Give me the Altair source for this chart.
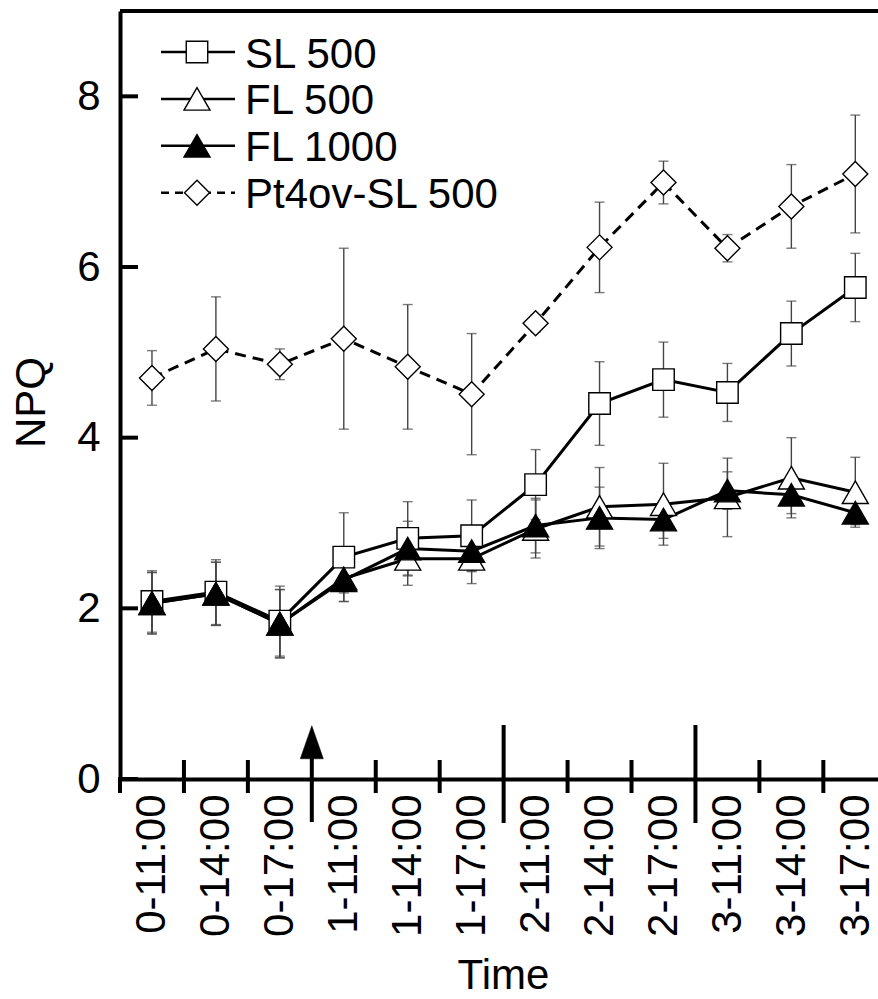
import json
import altair as alt
import pandas as pd

# ---------------- data ----------------
times = ["0-11:00", "0-14:00", "0-17:00", "1-11:00", "1-14:00", "1-17:00",
         "2-11:00", "2-14:00", "2-17:00", "3-11:00", "3-14:00", "3-17:00"]
series_names = ["SL 500", "FL 500", "FL 1000", "Pt4ov-SL 500"]

sl500_mean = [2.08, 2.19, 1.85, 2.60, 2.82, 2.85, 3.45, 4.40, 4.68, 4.53, 5.22, 5.76]
sl500_err = [0.36, 0.38, 0.41, 0.52, 0.43, 0.42, 0.41, 0.49, 0.44, 0.34, 0.38, 0.40]
fl500_mean = [2.06, 2.17, 1.82, 2.35, 2.58, 2.58, 2.93, 3.19, 3.22, 3.30, 3.53, 3.36]
fl500_err = [0.36, 0.37, 0.40, 0.27, 0.31, 0.29, 0.34, 0.46, 0.48, 0.46, 0.47, 0.41]
fl1000_mean = [2.06, 2.17, 1.82, 2.33, 2.70, 2.67, 2.97, 3.06, 3.04, 3.38, 3.33, 3.12]
fl1000_err = [0.36, 0.37, 0.40, 0.15, 0.32, 0.23, 0.32, 0.36, 0.22, 0.22, 0.22, 0.14]
pt4_mean = [4.70, 5.04, 4.86, 5.16, 4.83, 4.51, 5.34, 6.23, 6.99, 6.22, 6.71, 7.09]
pt4_err = [0.32, 0.61, 0.18, 1.06, 0.73, 0.71, 0.10, 0.53, 0.25, 0.16, 0.49, 0.69]

y_tick_values = [0, 2, 4, 6, 8]

means = {"SL 500": sl500_mean, "FL 500": fl500_mean,
         "FL 1000": fl1000_mean, "Pt4ov-SL 500": pt4_mean}
errs = {"SL 500": sl500_err, "FL 500": fl500_err,
        "FL 1000": fl1000_err, "Pt4ov-SL 500": pt4_err}

rows = []
for s in series_names:
    for i, t in enumerate(times):
        m, e = means[s][i], errs[s][i]
        rows.append({"series": s, "t": i, "time": t, "mean": m,
                     "lo": m - e, "hi": m + e})
df = pd.DataFrame(rows)

# boundaries between time categories (hour vs. day change)
bounds = []
first_day_change = True
for i in range(len(times) - 1):
    if times[i].split("-")[0] != times[i + 1].split("-")[0]:
        kind = "arrow" if first_day_change else "day"
        first_day_change = False
    else:
        kind = "hour"
    bounds.append({"b": i + 0.5, "kind": kind})
bdf = pd.DataFrame(bounds)
ytdf = pd.DataFrame({"v": y_tick_values})
one = pd.DataFrame({"k": [0]})
legend_df = pd.DataFrame({"name": series_names, "row": list(range(len(series_names)))})

# ---------------- styling ----------------
FONT = "Liberation Sans"
FS = 42
W, H = 758, 768
styles = {
    "SL 500": dict(shape="square", fill="white", size=462, dash=None),
    "FL 500": dict(shape="triangle-up", fill="white", size=676, dash=None),
    "FL 1000": dict(shape="triangle-up", fill="black", size=676, dash=None),
    "Pt4ov-SL 500": dict(shape="diamond", fill="white", size=625, dash=[11, 7]),
}
draw_order = ["Pt4ov-SL 500", "SL 500", "FL 500", "FL 1000"]

xscale = alt.Scale(domain=[-0.5, 11.355], nice=False, zero=False)
yscale = alt.Scale(domain=[0, 9], nice=False, zero=True)

label_expr = json.dumps(times) + "[datum.value]"
xaxis = alt.Axis(values=list(range(len(times))), labelExpr=label_expr, title="Time",
                 labelAngle=270, labelAlign="right", labelBaseline="middle",
                 labelPadding=15, ticks=False, tickSize=0, domainWidth=4,
                 domainColor="black", grid=False, labelFontSize=FS, titleFontSize=FS,
                 titleFontWeight="normal", titleY=209, titleX=383,
                 titleBaseline="alphabetic", labelFont=FONT, titleFont=FONT,
                 labelColor="black", titleColor="black", labelOverlap=False,
                 labelFlush=False)
yaxis = alt.Axis(values=y_tick_values, title="NPQ", ticks=False, tickSize=0,
                 labelPadding=20, domainWidth=4, domainColor="black", grid=False,
                 labelFontSize=FS, titleFontSize=FS, titleFontWeight="normal",
                 titleX=-89, titleY=391, titleAngle=270, titleBaseline="middle",
                 titleAlign="center", labelFont=FONT, titleFont=FONT,
                 labelColor="black", titleColor="black", labelFlush=False)


def X(field):
    return alt.X(f"{field}:Q", scale=xscale, axis=xaxis)


def Y(field):
    return alt.Y(f"{field}:Q", scale=yscale, axis=yaxis)


layers = []

# error bars
for s in draw_order:
    d = df[df.series == s]
    base = alt.Chart(d)
    layers.append(base.mark_rule(color="#444", strokeWidth=1.4).encode(
        x=X("t"), y=Y("lo"), y2="hi:Q"))
    for f in ["lo", "hi"]:
        layers.append(base.mark_tick(color="#444", thickness=1.4, size=10,
                                     orient="horizontal").encode(
            x=X("t"), y=Y(f)))

# connecting lines
for s in draw_order:
    d = df[df.series == s]
    kw = dict(color="black", strokeWidth=3)
    if styles[s]["dash"]:
        kw["strokeDash"] = styles[s]["dash"]
    layers.append(alt.Chart(d).mark_line(**kw).encode(
        x=X("t"), y=Y("mean"), order="t:Q"))

# markers
for s in draw_order:
    d = df[df.series == s]
    st = styles[s]
    layers.append(alt.Chart(d).mark_point(
        shape=st["shape"], filled=True, fill=st["fill"], stroke="black",
        strokeWidth=1.4, size=st["size"], opacity=1).encode(
        x=X("t"), y=Y("mean")))

# frame: top line, inward y ticks, y-axis stub below the x axis
layers.append(alt.Chart(one).mark_rule(color="black", strokeWidth=4).encode(
    x=alt.value(0), x2=alt.value(W), y=alt.value(0)))
layers.append(alt.Chart(ytdf).mark_rule(color="black", strokeWidth=4).encode(
    x=alt.value(0), x2=alt.value(18), y=Y("v")))
layers.append(alt.Chart(one).mark_rule(color="black", strokeWidth=4).encode(
    x=alt.value(0), y=alt.value(H - 2), y2=alt.value(H + 14)))

# x boundary ticks
hour = bdf[bdf.kind == "hour"]
day = bdf[bdf.kind == "day"]
arrow = bdf[bdf.kind == "arrow"]
layers.append(alt.Chart(hour).mark_rule(color="black", strokeWidth=4).encode(
    x=X("b"), y=alt.value(H - 19), y2=alt.value(H + 14)))
layers.append(alt.Chart(day).mark_rule(color="black", strokeWidth=4).encode(
    x=X("b"), y=alt.value(H - 54), y2=alt.value(H + 44)))
layers.append(alt.Chart(arrow).mark_rule(color="black", strokeWidth=4).encode(
    x=X("b"), y=alt.value(H - 22), y2=alt.value(H + 43)))
layers.append(alt.Chart(arrow).mark_point(
    shape="M0,-1L-0.7,1L0.7,1Z", filled=True, fill="black", stroke="black",
    strokeWidth=0.5, size=1089, opacity=1).encode(
    x=X("b"), y=alt.value(H - 36.7)))

# legend
leg_y0, leg_dy = 41, 46.9
for i, s in enumerate(series_names):
    st = styles[s]
    py = leg_y0 + i * leg_dy
    ld = legend_df[legend_df.row == i]
    kw = dict(color="black", strokeWidth=2.5)
    if st["dash"]:
        kw["strokeDash"] = [8, 6]
    layers.append(alt.Chart(ld).mark_rule(**kw).encode(
        x=alt.value(41), x2=alt.value(115), y=alt.value(py)))
    layers.append(alt.Chart(ld).mark_point(
        shape=st["shape"], filled=True, fill=st["fill"], stroke="black",
        strokeWidth=1.4, size=st["size"], opacity=1).encode(
        x=alt.value(77), y=alt.value(py)))
    layers.append(alt.Chart(ld).mark_text(
        align="left", baseline="alphabetic", fontSize=FS, font=FONT,
        color="black").encode(
        x=alt.value(125), y=alt.value(py + 15.5), text="name:N"))

chart = alt.layer(*layers).properties(
    width=W, height=H,
    padding={"left": 120, "top": 11, "right": 0, "bottom": 220},
    autosize=alt.AutoSizeParams(type="none"),
    background="white",
).configure_view(stroke=None)

chart.save("out.html", embed_options={"renderer": "svg", "actions": False})
